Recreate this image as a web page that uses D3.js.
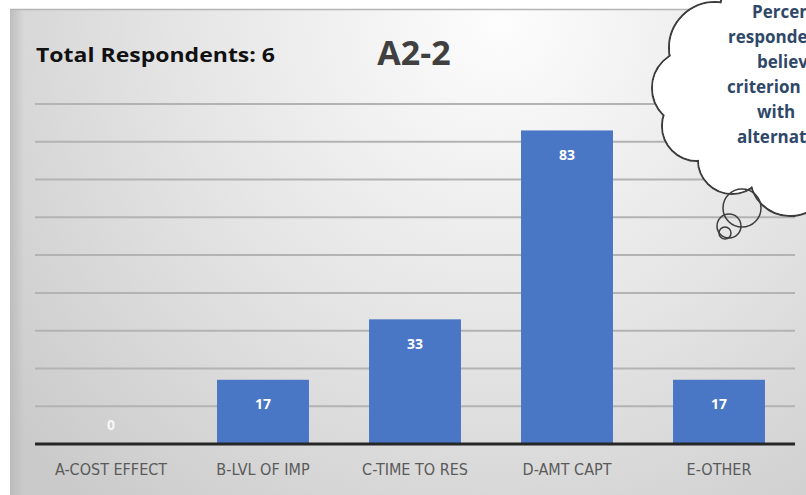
<!DOCTYPE html>
<html lang="en">
<head>
    <meta charset="UTF-8">
    <title>A2-2</title>
    <script src="https://d3js.org/d3.v7.min.js"></script>
</head>

<style>
    body { margin: 0; background: #fff; }
    .grid line { stroke: #b3b3b3; stroke-width: 2px; }
    .cat text { font-family: "DejaVu Sans Condensed", "Liberation Sans Narrow", sans-serif; font-size: 16px; fill: #5a5a5a; }
    .vals text { font-family: "Open Sans", sans-serif; font-weight: bold; font-size: 14px; fill: #fff; }
</style>

<body>
<svg width="806" height="495"></svg>

<script>
    var categories = ["A-COST EFFECT", "B-LVL OF IMP", "C-TIME TO RES", "D-AMT CAPT", "E-OTHER"];
    var values = [0, 17, 33, 83, 17];
    var gridTicks = [10, 20, 30, 40, 50, 60, 70, 80, 90];
    var chartTitle = "A2-2";
    var respondentsText = "Total Respondents: 6";
    var noteLines = ["Percent of", "respondents who", "believe", "criterion is met", "with", "alternative"];
    var noteStarts = [752, 728, 757, 727, 757, 737];

    var svg = d3.select("svg"),
        width = +svg.attr("width"),
        height = +svg.attr("height");

    var defs = svg.append("defs");
    var bg = defs.append("radialGradient")
        .attr("id", "bg")
        .attr("gradientUnits", "userSpaceOnUse")
        .attr("cx", 500).attr("cy", 20).attr("r", 640);
    bg.append("stop").attr("offset", "0%").attr("stop-color", "#fdfdfd");
    bg.append("stop").attr("offset", "50%").attr("stop-color", "#e5e5e5");
    bg.append("stop").attr("offset", "100%").attr("stop-color", "#cacaca");

    var edge = defs.append("linearGradient")
        .attr("id", "edge")
        .attr("x1", 0).attr("x2", 1).attr("y1", 0).attr("y2", 0);
    edge.append("stop").attr("offset", "0%").attr("stop-color", "#b8b8b8").attr("stop-opacity", 0.8);
    edge.append("stop").attr("offset", "100%").attr("stop-color", "#b8b8b8").attr("stop-opacity", 0);

    // slide panel
    svg.append("rect")
        .attr("x", 10).attr("y", 9)
        .attr("width", width - 10).attr("height", height - 9)
        .attr("fill", "url(#bg)");
    svg.append("rect")
        .attr("x", 10).attr("y", 9)
        .attr("width", 14).attr("height", height - 9)
        .attr("fill", "url(#edge)");
    svg.append("line")
        .attr("x1", 10).attr("x2", width).attr("y1", 9.5).attr("y2", 9.5)
        .attr("stroke", "#b4b4b4").attr("stroke-width", 1.5);

    var x = d3.scaleBand()
        .domain(categories)
        .range([35, 795])
        .paddingInner(0.395)
        .paddingOuter(0.1975);

    var y = d3.scaleLinear()
        .domain([0, 90])
        .range([444, 104]);

    svg.append("g")
        .attr("class", "grid")
        .selectAll("line")
        .data(gridTicks)
        .enter().append("line")
        .attr("x1", 35).attr("x2", 795)
        .attr("y1", function(d) { return y(d); })
        .attr("y2", function(d) { return y(d); });

    svg.append("g")
        .selectAll("rect")
        .data(values)
        .enter().append("rect")
        .attr("x", function(d, i) { return x(categories[i]); })
        .attr("y", function(d) { return y(d); })
        .attr("width", x.bandwidth())
        .attr("height", function(d) { return y(0) - y(d); })
        .attr("fill", "#4a76c6");

    svg.append("g")
        .attr("class", "vals")
        .selectAll("text")
        .data(values)
        .enter().append("text")
        .attr("x", function(d, i) { return x(categories[i]) + x.bandwidth() / 2; })
        .attr("y", function(d) { return d === 0 ? y(0) - 20 : y(d) + 24; })
        .attr("text-anchor", "middle")
        .attr("dominant-baseline", "central")
        .style("fill-opacity", function(d) { return d === 0 ? 0.85 : 1; })
        .text(function(d) { return d; });

    // baseline axis
    var xAxis = svg.append("g")
        .attr("class", "cat")
        .attr("transform", "translate(0," + y(0) + ")")
        .call(d3.axisBottom(x).tickSize(0).tickPadding(20));
    xAxis.select(".domain")
        .attr("d", "M35,0H795")
        .attr("stroke", "#262626")
        .attr("stroke-width", 3);
    xAxis.selectAll("text").attr("fill", null);

    svg.append("text")
        .attr("x", 36).attr("y", 62)
        .attr("font-family", "Open Sans, sans-serif")
        .attr("font-weight", "bold")
        .attr("font-size", 20)
        .attr("fill", "#111")
        .attr("textLength", 239)
        .attr("lengthAdjust", "spacingAndGlyphs")
        .text(respondentsText);

    svg.append("text")
        .attr("x", 414).attr("y", 65)
        .attr("text-anchor", "middle")
        .attr("font-family", "Open Sans, sans-serif")
        .attr("font-weight", "bold")
        .attr("font-size", 34)
        .attr("fill", "#404040")
        .text(chartTitle);

    // thought bubble
    var cloudParts = [
        [715, 48, 46], [690, 88, 38], [697, 126, 35], [732, 160, 34],
        [790, 176, 40], [785, 65, 72], [800, 115, 62], [760, 10, 40],
        [750, 115, 55]
    ];
    var cloud = svg.append("g");
    cloud.selectAll("circle.o")
        .data(cloudParts)
        .enter().append("circle")
        .attr("cx", function(d) { return d[0]; })
        .attr("cy", function(d) { return d[1]; })
        .attr("r", function(d) { return d[2]; })
        .attr("fill", "#fff")
        .attr("stroke", "#3c3c3c")
        .attr("stroke-width", 2);
    cloud.selectAll("circle.i")
        .data(cloudParts)
        .enter().append("circle")
        .attr("cx", function(d) { return d[0]; })
        .attr("cy", function(d) { return d[1]; })
        .attr("r", function(d) { return d[2] - 1; })
        .attr("fill", "#fff");

    var bubbles = [[742, 208, 19], [729, 226, 12], [725, 233, 6]];
    svg.append("g")
        .selectAll("circle")
        .data(bubbles)
        .enter().append("circle")
        .attr("cx", function(d) { return d[0]; })
        .attr("cy", function(d) { return d[1]; })
        .attr("r", function(d) { return d[2]; })
        .attr("fill", "none")
        .attr("stroke", "#3c3c3c")
        .attr("stroke-width", 1.5);

    svg.append("g")
        .selectAll("text")
        .data(noteLines)
        .enter().append("text")
        .attr("x", function(d, i) { return noteStarts[i]; })
        .attr("y", function(d, i) { return 18 + i * 25; })
        .attr("font-family", "Open Sans, sans-serif")
        .attr("font-weight", "bold")
        .attr("font-size", 17)
        .attr("fill", "#2f4868")
        .text(function(d) { return d; });
</script>
</body>
</html>
